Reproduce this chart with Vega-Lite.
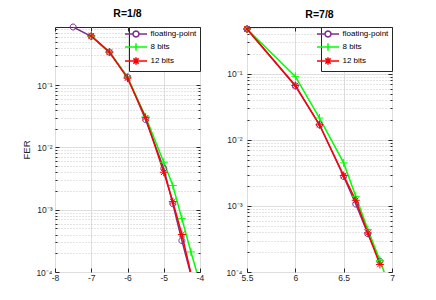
{
  "$schema": "https://vega.github.io/schema/vega-lite/v6.json",
  "background": "white",
  "padding": {"left": 21, "top": 8, "right": 0, "bottom": 0},
  "config": {
    "font": "Liberation Sans",
    "view": {"stroke": "#262626", "strokeWidth": 1},
    "axis": {
      "labelFont": "Liberation Sans", "labelFontSize": 8.5, "labelColor": "#262626",
      "domain": false, "gridColor": "#dedede", "gridWidth": 1,
      "tickColor": "#262626", "labelOverlap": false, "labelFlush": false,
      "titleFont": "Liberation Sans", "titleFontSize": 9.5, "titleFontWeight": "normal", "titleColor": "#262626"
    },
    "title": {"font": "Liberation Sans", "fontSize": 10.5, "fontWeight": "bold", "color": "#000000", "offset": 3},
    "legend": {
      "orient": "top-right", "offset": 0, "title": null,
      "fillColor": "white", "strokeColor": "#262626", "padding": 3,
      "labelFont": "Liberation Sans", "labelFontSize": 8, "labelColor": "#000000",
      "symbolSize": 25, "symbolStrokeWidth": 1.5, "rowPadding": 0, "labelOffset": 10.5
    }
  },
  "datasets": {
    "fer": [
      {"panel": "R=1/8", "series": "floating-point", "x": -7.5, "fer": 0.86},
      {"panel": "R=1/8", "series": "floating-point", "x": -7, "fer": 0.61},
      {"panel": "R=1/8", "series": "floating-point", "x": -6.5, "fer": 0.34},
      {"panel": "R=1/8", "series": "floating-point", "x": -6, "fer": 0.135},
      {"panel": "R=1/8", "series": "floating-point", "x": -5.5, "fer": 0.028},
      {"panel": "R=1/8", "series": "floating-point", "x": -5, "fer": 0.0046},
      {"panel": "R=1/8", "series": "floating-point", "x": -4.75, "fer": 0.00125},
      {"panel": "R=1/8", "series": "floating-point", "x": -4.5, "fer": 0.00032},
      {"panel": "R=1/8", "series": "floating-point", "x": -4.25, "fer": 0.00009},
      {"panel": "R=1/8", "series": "8 bits", "x": -7, "fer": 0.61},
      {"panel": "R=1/8", "series": "8 bits", "x": -6.5, "fer": 0.34},
      {"panel": "R=1/8", "series": "8 bits", "x": -6, "fer": 0.135},
      {"panel": "R=1/8", "series": "8 bits", "x": -5.5, "fer": 0.031},
      {"panel": "R=1/8", "series": "8 bits", "x": -5, "fer": 0.0058},
      {"panel": "R=1/8", "series": "8 bits", "x": -4.75, "fer": 0.00245},
      {"panel": "R=1/8", "series": "8 bits", "x": -4.5, "fer": 0.00072},
      {"panel": "R=1/8", "series": "8 bits", "x": -4.25, "fer": 0.00021},
      {"panel": "R=1/8", "series": "8 bits", "x": -4, "fer": 0.000066},
      {"panel": "R=1/8", "series": "12 bits", "x": -7, "fer": 0.62},
      {"panel": "R=1/8", "series": "12 bits", "x": -6.5, "fer": 0.34},
      {"panel": "R=1/8", "series": "12 bits", "x": -6, "fer": 0.13},
      {"panel": "R=1/8", "series": "12 bits", "x": -5.5, "fer": 0.030},
      {"panel": "R=1/8", "series": "12 bits", "x": -5, "fer": 0.0040},
      {"panel": "R=1/8", "series": "12 bits", "x": -4.75, "fer": 0.00135},
      {"panel": "R=1/8", "series": "12 bits", "x": -4.5, "fer": 0.0004},
      {"panel": "R=1/8", "series": "12 bits", "x": -4.25, "fer": 0.000095},
      {"panel": "R=7/8", "series": "floating-point", "x": 5.5, "fer": 0.48},
      {"panel": "R=7/8", "series": "floating-point", "x": 6, "fer": 0.066},
      {"panel": "R=7/8", "series": "floating-point", "x": 6.25, "fer": 0.017},
      {"panel": "R=7/8", "series": "floating-point", "x": 6.5, "fer": 0.0028},
      {"panel": "R=7/8", "series": "floating-point", "x": 6.625, "fer": 0.00107},
      {"panel": "R=7/8", "series": "floating-point", "x": 6.75, "fer": 0.00038},
      {"panel": "R=7/8", "series": "floating-point", "x": 6.875, "fer": 0.000145},
      {"panel": "R=7/8", "series": "8 bits", "x": 5.5, "fer": 0.48},
      {"panel": "R=7/8", "series": "8 bits", "x": 6, "fer": 0.092},
      {"panel": "R=7/8", "series": "8 bits", "x": 6.25, "fer": 0.0215},
      {"panel": "R=7/8", "series": "8 bits", "x": 6.5, "fer": 0.0045},
      {"panel": "R=7/8", "series": "8 bits", "x": 6.625, "fer": 0.0014},
      {"panel": "R=7/8", "series": "8 bits", "x": 6.75, "fer": 0.00044},
      {"panel": "R=7/8", "series": "8 bits", "x": 6.875, "fer": 0.00015},
      {"panel": "R=7/8", "series": "8 bits", "x": 7, "fer": 0.000047},
      {"panel": "R=7/8", "series": "12 bits", "x": 5.5, "fer": 0.48},
      {"panel": "R=7/8", "series": "12 bits", "x": 6, "fer": 0.067},
      {"panel": "R=7/8", "series": "12 bits", "x": 6.25, "fer": 0.017},
      {"panel": "R=7/8", "series": "12 bits", "x": 6.5, "fer": 0.0029},
      {"panel": "R=7/8", "series": "12 bits", "x": 6.625, "fer": 0.00122},
      {"panel": "R=7/8", "series": "12 bits", "x": 6.75, "fer": 0.00039},
      {"panel": "R=7/8", "series": "12 bits", "x": 6.875, "fer": 0.00013}
    ]
  },
  "data": {"name": "fer"},
  "spacing": 47,
  "bounds": "flush",
  "resolve": {
    "scale": {"x": "independent", "y": "independent", "color": "independent", "shape": "independent"},
    "legend": {"color": "independent"}
  },
  "hconcat": [
    {
      "width": 145, "height": 245,
      "title": {"text": "R=1/8"},
      "transform": [{"filter": "datum.panel === 'R=1/8'"}],
      "resolve": {"scale": {"color": "independent"}, "axis": {"x": "independent", "y": "independent"}},
      "encoding": {
        "x": {"field": "x", "type": "quantitative",
          "scale": {"domain": [-8, -4], "nice": false, "zero": false},
          "axis": {"title": null, "values": [-8, -7, -6, -5, -4], "labelExpr": "'' + datum.value", "tickSize": -4, "labelPadding": 5, "labelOverlap": false, "labelFlush": false}},
        "y": {"field": "fer", "type": "quantitative",
          "scale": {"type": "log", "domain": [0.0001, 0.86], "nice": false},
          "axis": {"title": "FER", "titlePadding": 4, "labelPadding": 7, "labelOverlap": false,
            "values": [0.0001,0.0002,0.0003,0.0004,0.0005,0.0006,0.0007,0.0008,0.0009,0.001,0.002,0.003,0.004,0.005,0.006,0.007,0.008,0.009,0.01,0.02,0.03,0.04,0.05,0.06,0.07,0.08,0.09,0.1,0.2,0.3,0.4,0.5,0.6,0.7,0.8],
            "labelExpr": "abs(log(datum.value)/LN10 - round(log(datum.value)/LN10)) < 0.001 ? '10⁻' + ['⁰','¹','²','³','⁴'][-round(log(datum.value)/LN10)] : ''",
            "gridDash": {"condition": {"test": "abs(log(datum.value)/LN10 - round(log(datum.value)/LN10)) < 0.001", "value": []}, "value": [1, 2]},
            "gridColor": {"condition": {"test": "abs(log(datum.value)/LN10 - round(log(datum.value)/LN10)) < 0.001", "value": "#dedede"}, "value": "#c8c8c8"},
            "tickSize": {"condition": {"test": "abs(log(datum.value)/LN10 - round(log(datum.value)/LN10)) < 0.001", "value": -4}, "value": -2}}}
      },
      "layer": [
        {
          "mark": {"type": "line", "strokeWidth": 1.5, "clip": true},
          "encoding": {
            "color": {"field": "series", "type": "nominal",
              "scale": {"domain": ["floating-point", "8 bits", "12 bits"], "range": ["#7E2F8E", "#00FF00", "#FF0000"]},
              "legend": {"symbolType": "stroke", "encode": {"symbols": {"update": {
                "shape": {"signal": "datum.value === 'floating-point' ? 'M-4.4,0L-1.2,0M1.2,0L4.4,0M1.2,0L1.039,0.6L0.6,1.039L0,1.2L-0.6,1.039L-1.039,0.6L-1.2,0L-1.039,-0.6L-0.6,-1.039L0,-1.2L0.6,-1.039L1.039,-0.6Z' : datum.value === '8 bits' ? 'M-4.4,0L4.4,0M0,-1.5L0,1.5' : 'M-4.4,0L4.4,0M0,-1.5L0,1.5M-1.05,-1.05L1.05,1.05M-1.05,1.05L1.05,-1.05'"},
                "fill": {"value": "transparent"}}}}}}
          }
        },
        {
          "transform": [{"filter": "datum.fer >= 0.0001"}],
          "mark": {"type": "point", "filled": false, "strokeWidth": 1, "clip": false, "size": 64, "opacity": 1},
          "encoding": {
            "x": {"field": "x", "type": "quantitative",
              "axis": {"orient": "top", "title": null, "labels": false, "grid": false, "values": [-8, -7, -6, -5, -4], "tickSize": -4}},
            "y": {"field": "fer", "type": "quantitative",
              "axis": {"orient": "right", "title": null, "labels": false, "grid": false,
                "values": [0.0001,0.0002,0.0003,0.0004,0.0005,0.0006,0.0007,0.0008,0.0009,0.001,0.002,0.003,0.004,0.005,0.006,0.007,0.008,0.009,0.01,0.02,0.03,0.04,0.05,0.06,0.07,0.08,0.09,0.1,0.2,0.3,0.4,0.5,0.6,0.7,0.8],
                "tickSize": {"condition": {"test": "abs(log(datum.value)/LN10 - round(log(datum.value)/LN10)) < 0.001", "value": -4}, "value": -2}}},
            "color": {"field": "series", "type": "nominal", "legend": null,
              "scale": {"domain": ["floating-point", "8 bits", "12 bits"], "range": ["#7E2F8E", "#00FF00", "#FF0000"]}},
            "shape": {"field": "series", "type": "nominal", "legend": null,
              "scale": {"domain": ["floating-point", "8 bits", "12 bits"],
                "range": ["M-0.75,0A0.75,0.75 0 1,1 0.75,0A0.75,0.75 0 1,1 -0.75,0", "M-1,0L1,0M0,-1L0,1", "M-1,0L1,0M0,-1L0,1M-0.7,-0.7L0.7,0.7M-0.7,0.7L0.7,-0.7"]}}
          }
        }
      ]
    },
    {
      "width": 145, "height": 245,
      "title": {"text": "R=7/8"},
      "transform": [{"filter": "datum.panel === 'R=7/8'"}],
      "resolve": {"scale": {"color": "independent"}, "axis": {"x": "independent", "y": "independent"}},
      "encoding": {
        "x": {"field": "x", "type": "quantitative",
          "scale": {"domain": [5.5, 7], "nice": false, "zero": false},
          "axis": {"title": null, "values": [5.5, 6, 6.5, 7], "labelExpr": "'' + datum.value", "tickSize": -4, "labelPadding": 5, "labelOverlap": false, "labelFlush": false}},
        "y": {"field": "fer", "type": "quantitative",
          "scale": {"type": "log", "domain": [0.0001, 0.515], "nice": false},
          "axis": {"title": null, "labelPadding": 9, "labelOverlap": false,
            "values": [0.0001,0.0002,0.0003,0.0004,0.0005,0.0006,0.0007,0.0008,0.0009,0.001,0.002,0.003,0.004,0.005,0.006,0.007,0.008,0.009,0.01,0.02,0.03,0.04,0.05,0.06,0.07,0.08,0.09,0.1,0.2,0.3,0.4,0.5],
            "labelExpr": "abs(log(datum.value)/LN10 - round(log(datum.value)/LN10)) < 0.001 ? '10⁻' + ['⁰','¹','²','³','⁴'][-round(log(datum.value)/LN10)] : ''",
            "gridDash": {"condition": {"test": "abs(log(datum.value)/LN10 - round(log(datum.value)/LN10)) < 0.001", "value": []}, "value": [1, 2]},
            "gridColor": {"condition": {"test": "abs(log(datum.value)/LN10 - round(log(datum.value)/LN10)) < 0.001", "value": "#dedede"}, "value": "#c8c8c8"},
            "tickSize": {"condition": {"test": "abs(log(datum.value)/LN10 - round(log(datum.value)/LN10)) < 0.001", "value": -4}, "value": -2}}}
      },
      "layer": [
        {
          "mark": {"type": "line", "strokeWidth": 1.5, "clip": true},
          "encoding": {
            "color": {"field": "series", "type": "nominal",
              "scale": {"domain": ["floating-point", "8 bits", "12 bits"], "range": ["#7E2F8E", "#00FF00", "#FF0000"]},
              "legend": {"symbolType": "stroke", "encode": {"symbols": {"update": {
                "shape": {"signal": "datum.value === 'floating-point' ? 'M-4.4,0L-1.2,0M1.2,0L4.4,0M1.2,0L1.039,0.6L0.6,1.039L0,1.2L-0.6,1.039L-1.039,0.6L-1.2,0L-1.039,-0.6L-0.6,-1.039L0,-1.2L0.6,-1.039L1.039,-0.6Z' : datum.value === '8 bits' ? 'M-4.4,0L4.4,0M0,-1.5L0,1.5' : 'M-4.4,0L4.4,0M0,-1.5L0,1.5M-1.05,-1.05L1.05,1.05M-1.05,1.05L1.05,-1.05'"},
                "fill": {"value": "transparent"}}}}}}
          }
        },
        {
          "transform": [{"filter": "datum.fer >= 0.0001"}],
          "mark": {"type": "point", "filled": false, "strokeWidth": 1, "clip": false, "size": 64, "opacity": 1},
          "encoding": {
            "x": {"field": "x", "type": "quantitative",
              "axis": {"orient": "top", "title": null, "labels": false, "grid": false, "values": [5.5, 6, 6.5, 7], "tickSize": -4}},
            "y": {"field": "fer", "type": "quantitative",
              "axis": {"orient": "right", "title": null, "labels": false, "grid": false,
                "values": [0.0001,0.0002,0.0003,0.0004,0.0005,0.0006,0.0007,0.0008,0.0009,0.001,0.002,0.003,0.004,0.005,0.006,0.007,0.008,0.009,0.01,0.02,0.03,0.04,0.05,0.06,0.07,0.08,0.09,0.1,0.2,0.3,0.4,0.5],
                "tickSize": {"condition": {"test": "abs(log(datum.value)/LN10 - round(log(datum.value)/LN10)) < 0.001", "value": -4}, "value": -2}}},
            "color": {"field": "series", "type": "nominal", "legend": null,
              "scale": {"domain": ["floating-point", "8 bits", "12 bits"], "range": ["#7E2F8E", "#00FF00", "#FF0000"]}},
            "shape": {"field": "series", "type": "nominal", "legend": null,
              "scale": {"domain": ["floating-point", "8 bits", "12 bits"],
                "range": ["M-0.75,0A0.75,0.75 0 1,1 0.75,0A0.75,0.75 0 1,1 -0.75,0", "M-1,0L1,0M0,-1L0,1", "M-1,0L1,0M0,-1L0,1M-0.7,-0.7L0.7,0.7M-0.7,0.7L0.7,-0.7"]}}
          }
        }
      ]
    }
  ]
}
